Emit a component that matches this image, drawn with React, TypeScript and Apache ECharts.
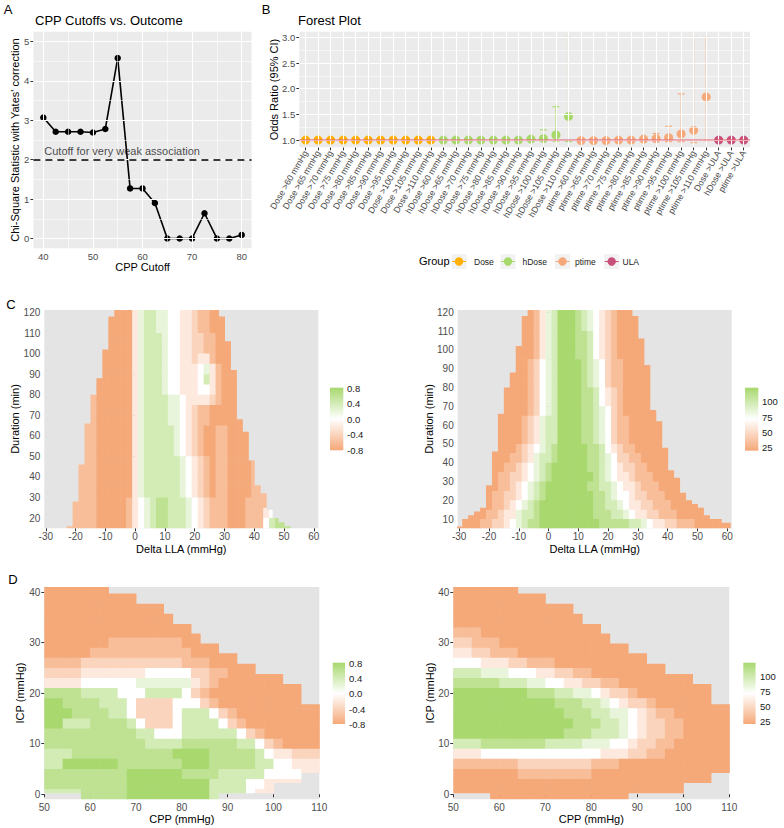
import React, { useEffect, useRef } from 'react';
import * as echarts from 'echarts';

const FONT = '"Liberation Sans", Arial, Helvetica, sans-serif';
const ORANGE = '#F5A878';
const GREEN = '#A8D86E';
const WHITE = '#FFFFFF';
const PANEL_BG = '#EBEBEB';
const NA_BG = '#E4E4E4';
const TICK_COLOR = '#333333';
const LABEL_COLOR = '#4D4D4D';

// ---------------- Panel A: CPP cutoffs vs outcome ----------------
const cppCutoffs = [40, 42.5, 45, 47.5, 50, 52.5, 55, 57.5, 60, 62.5, 65, 67.5, 70, 72.5, 75, 77.5, 80];
const chiSquare = [3.07, 2.71, 2.71, 2.71, 2.69, 2.78, 4.58, 1.27, 1.27, 0.9, 0.0, 0.0, 0.0, 0.64, 0.0, 0.0, 0.09];
const weakAssociationCutoff = 2;
const aXTicks = [40, 50, 60, 70, 80];
const aXMinor = [45, 55, 65, 75];
const aYTicks = [0, 1, 2, 3, 4, 5];
const aYMinor = [0.5, 1.5, 2.5, 3.5, 4.5];

// ---------------- Panel B: forest plot ----------------
const forestCategories = [
  'Dose >60 mmHg', 'Dose >65 mmHg', 'Dose >70 mmHg', 'Dose >75 mmHg', 'Dose >80 mmHg', 'Dose >85 mmHg',
  'Dose >90 mmHg', 'Dose >95 mmHg', 'Dose >100 mmHg', 'Dose >105 mmHg', 'Dose >110 mmHg',
  'hDose >60 mmHg', 'hDose >65 mmHg', 'hDose >70 mmHg', 'hDose >75 mmHg', 'hDose >80 mmHg', 'hDose >85 mmHg',
  'hDose >90 mmHg', 'hDose >95 mmHg', 'hDose >100 mmHg', 'hDose >105 mmHg', 'hDose >110 mmHg',
  'ptime >60 mmHg', 'ptime >65 mmHg', 'ptime >70 mmHg', 'ptime >75 mmHg', 'ptime >80 mmHg', 'ptime >85 mmHg',
  'ptime >90 mmHg', 'ptime >95 mmHg', 'ptime >100 mmHg', 'ptime >105 mmHg', 'ptime >110 mmHg',
  'Dose >ULA', 'hDose >ULA', 'ptime >ULA',
];
const forestGroupNames = ['Dose', 'hDose', 'ptime', 'ULA'];
const forestGroupColors = ['#FFB000', '#A6D96A', '#F5A97A', '#C9507A'];
const forestGroupIndex = [
  0, 0, 0, 0, 0, 0, 0, 0, 0, 0, 0,
  1, 1, 1, 1, 1, 1, 1, 1, 1, 1, 1,
  2, 2, 2, 2, 2, 2, 2, 2, 2, 2, 2,
  3, 3, 3,
];
const oddsRatio = [
  1.0, 1.0, 1.0, 1.0, 1.0, 1.0, 1.0, 1.0, 1.0, 1.0, 1.0,
  1.0, 1.0, 1.0, 1.0, 1.0, 1.0, 1.0, 1.02, 1.03, 1.1, 1.46,
  0.99, 0.99, 0.99, 1.0, 1.0, 1.02, 1.03, 1.05, 1.12, 1.19, 1.84,
  1.0, 1.0, 1.0,
];
const ciLower = [
  0.99, 0.99, 0.99, 0.99, 0.99, 0.99, 0.99, 0.99, 0.99, 0.99, 0.99,
  0.99, 0.99, 0.99, 0.99, 0.99, 0.99, 0.99, 0.99, 0.98, 0.98, 0.97,
  0.98, 0.98, 0.98, 0.98, 0.98, 0.99, 0.97, 0.97, 0.97, 0.95, 0.99,
  0.99, 0.99, 0.99,
];
const ciUpper = [
  1.01, 1.01, 1.01, 1.01, 1.01, 1.01, 1.01, 1.01, 1.01, 1.01, 1.01,
  1.01, 1.01, 1.01, 1.01, 1.01, 1.01, 1.01, 1.05, 1.2, 1.65, 3.0,
  1.01, 1.01, 1.01, 1.01, 1.01, 1.04, 1.13, 1.27, 1.9, 3.0, 3.0,
  1.01, 1.01, 1.01,
];
const bYTicks = [1.0, 1.5, 2.0, 2.5, 3.0];
const bYMinor = [1.25, 1.75, 2.25, 2.75];

// ---------------- Panels C / D: heatmaps ----------------
// level code -> value
const corrLevels = [-0.8, -0.6, -0.4, -0.2, 0, 0.2, 0.4, 0.6, 0.8];
const pctLevels = [22, 34.5, 47, 59.5, 72, 84.5, 97, 109.5, 122];

// Delta LLA domain: [xFrom, xTo, durationTop, durationBottom]
const cDomain: [number, number, number, number][] = [
  [-31, -29, 6, 0], [-29, -27, 10, 0], [-27, -25, 12, 0], [-25, -23, 14, 0], [-23, -21, 16, 0],
  [-21, -19, 28, 0], [-19, -17, 46, 0], [-17, -15, 66, 0], [-15, -13, 80, 0], [-13, -11, 88, 0],
  [-11, -9, 102, 0], [-9, -7, 118, 0], [-7, 28, 130, 0], [28, 30, 118, 0], [30, 32, 106, 0],
  [32, 34, 92, 0], [34, 36, 68, 0], [36, 38, 62, 0], [38, 40, 48, 0], [40, 42, 36, 0],
  [42, 44, 32, 0], [44, 46, 24, 0], [46, 48, 20, 0], [48, 50, 18, 0], [50, 52, 16, 0],
  [52, 54, 12, 0], [54, 58, 10, 0], [58, 62, 8, 0],
];
// [first column index, level codes]; columns centred at -30, -28, ... ; rows: 5-min bands from 120-125 down
const cLeftRows: [number, string][] = [
  [12, '000356655443321100'],
  [11, '00003566554433211000'],
  [11, '00003566554433211000'],
  [11, '000035666544332211000'],
  [10, '0000035666544332211000'],
  [10, '0000035666544332331000'],
  [10, '00000356665443334531000'],
  [9, '000000356665443334631000'],
  [9, '000000356665443334431000'],
  [8, '1000000356666554333321000'],
  [8, '1000000356666554321100000'],
  [7, '110000003566665543211000000'],
  [7, '1100000035666665432100110000'],
  [7, '1100000035666665432100110000'],
  [7, '1100000035666665432100110000'],
  [6, '111000000356666665432101100001'],
  [6, '111000000356666665432101100001'],
  [6, '1110000003566666654321011000011'],
  [6, '11100000035666666543210110000111'],
  [5, '111100000134567766654321110001111'],
  [5, '1111000001345677666543211100011134'],
  [4, '11111000001345677666543211100011146777'],
];
const cRightRows: [number, string][] = [
  [12, '013568887654321000'],
  [11, '00135688876543210000'],
  [11, '00135688876543210000'],
  [11, '001356888776432100000'],
  [10, '0001356888776432100000'],
  [10, '0001356888776432100000'],
  [10, '00124568888765421100000'],
  [9, '000124568888765421100000'],
  [9, '000124568888765421100000'],
  [8, '0000124568888776432100000'],
  [8, '0000124568888776432100000'],
  [7, '000001245688887765421000000'],
  [7, '0000123566888877654211000000'],
  [7, '0000123566888877654211000000'],
  [7, '0000123566888877654211000000'],
  [6, '000012345678888877643211000000'],
  [6, '000112356678888877654221100000'],
  [6, '0011234567888888776543221100000'],
  [6, '01122345678888888765433211100000'],
  [5, '001123456788888887766543321110000'],
  [5, '0112234567888888887765443221110000'],
  [4, '00112345678888888887766543322111000000'],
  [2, '00011233566788888888877766543322111000000'],
  [0, '0000112234567788888888887777766543322111000000'],
];

// CPP / ICP domain: [cppFrom, cppTo, icpTop, icpBottom]
const dDomain: [number, number, number, number][] = [
  [50, 58, 41, 0.3], [58, 64, 41, -1], [64, 70, 39.7, -1], [70, 76, 37.7, -1], [76, 78, 35.7, -1],
  [78, 82, 33.7, -1], [82, 84, 31.8, -1], [84, 88, 29.8, -1], [88, 92, 27.9, 0.3], [92, 96, 25.8, 0.3],
  [96, 100, 23.8, 0.3], [100, 102, 23.8, 2.3], [102, 106, 21.8, 2.3], [106, 110, 17.8, 4.3],
];
// columns centred at 51, 53, ... ; rows centred at ICP 40, 38, ... 0
const dLeftRows: [number, string][] = [
  [0, '0000000000'],
  [0, '0000000000000'],
  [0, '00000000000000'],
  [0, '0000000000000000'],
  [0, '00000000000000000'],
  [0, '0000000111111110000'],
  [0, '000001111111111100000'],
  [0, '11112222222222211100000'],
  [0, '22223333333444442211000000'],
  [0, '3333444444555555321000000000'],
  [0, '7777666644466664210000000000'],
  [0, '887777666422224442100000000000'],
  [0, '888777766422224666421000000000'],
  [0, '886667777642224666642100000000'],
  [0, '777777777766444666666421000000'],
  [0, '777777777776666777777664210000'],
  [0, '666777777777778888777776433222'],
  [0, '668888887777777888777776644333'],
  [0, '777777777888888777766666444433'],
  [0, '7777777778888888886666443333'],
  [0, '6666777778888888886666433'],
];
const dRightRows: [number, string][] = [
  [0, '0000000000'],
  [0, '0000000000000'],
  [0, '00000000000000'],
  [0, '0000000000000000'],
  [0, '11100000000000000'],
  [0, '2211100000000000000'],
  [0, '332211100000000000000'],
  [0, '44433322111000000000000'],
  [0, '66655544433221100000000000'],
  [0, '7777766655443322110000000000'],
  [0, '8888888877766554322100000000'],
  [0, '888888888887776654322100000000'],
  [0, '888888888888777665543211000000'],
  [0, '888888888888877766543221100000'],
  [0, '888888888888777666543221100000'],
  [0, '666777777766665554432211000000'],
  [0, '333444444444444433322110000000'],
  [0, '111111122222222111000000000000'],
  [0, '000000011111111000000000000000'],
  [0, '0000000000000000000000000000'],
  [0, '0000000000000000000000000'],
];

const cXTicks = [-30, -20, -10, 0, 10, 20, 30, 40, 50, 60];
const cLeftYTicks = [20, 30, 40, 50, 60, 70, 80, 90, 100, 110, 120];
const cRightYTicks = [10, 20, 30, 40, 50, 60, 70, 80, 90, 100, 110, 120];
const dXTicks = [50, 60, 70, 80, 90, 100, 110];
const dYTicks = [0, 10, 20, 30, 40];
const corrLegendLabels = ['0.8', '0.4', '0.0', '-0.4', '-0.8'];
const pctLegendLabels = ['100', '75', '50', '25'];

function buildCells(
  rows: [number, string][], xFirst: number, dx: number, yFirst: number, dy: number,
  domain: [number, number, number, number][], levels: number[],
) {
  const cells: number[][] = [];
  rows.forEach(([start, s], r) => {
    const yc = yFirst - r * dy;
    const y0 = yc - dy / 2;
    const y1 = yc + dy / 2;
    for (let k = 0; k < s.length; k++) {
      const ch = s[k];
      if (ch === '.') continue;
      const v = levels[Number(ch)];
      const xc = xFirst + (start + k) * dx;
      const xa = xc - dx / 2;
      const xb = xc + dx / 2;
      for (const [sx0, sx1, top, bot] of domain) {
        const a = Math.max(xa, sx0);
        const b = Math.min(xb, sx1);
        if (b <= a) continue;
        const lo = Math.max(y0, bot);
        const hi = Math.min(y1, top);
        if (hi <= lo) continue;
        cells.push([a, b, lo, hi, v]);
      }
    }
  });
  return cells;
}

function txt(text: string, x: number, y: number, size: number, o: any = {}) {
  const align = o.align || 'left';
  const valign = o.valign || 'middle';
  return {
    type: 'text', x, y, rotation: o.rotation || 0, silent: true, z: 100,
    style: {
      text, fill: o.color || '#000000', fontSize: size, fontFamily: FONT,
      align, verticalAlign: valign, textAlign: align, textVerticalAlign: valign,
    },
  };
}

function valAxis(gridIndex: number, min: number, max: number, ticks: number[], fontSize: number, isX: boolean, formatter?: any) {
  return {
    type: 'value', gridIndex, min, max,
    axisLine: { show: false },
    axisTick: { show: true, length: 3, lineStyle: { color: TICK_COLOR, width: 1 }, customValues: ticks },
    axisLabel: {
      customValues: ticks, color: LABEL_COLOR, fontSize, fontFamily: FONT, margin: isX ? 3 : 4,
      ...(formatter ? { formatter } : {}),
    },
    splitLine: { show: false },
    minorSplitLine: { show: false },
  };
}

function gridLines(xi: number, xs: (number | string)[], xsMinor: number[], ys: number[], ysMinor: number[]) {
  const data: any[] = [];
  xs.forEach((v) => data.push({ xAxis: v, lineStyle: { color: WHITE, width: 1.1, type: 'solid' } }));
  xsMinor.forEach((v) => data.push({ xAxis: v, lineStyle: { color: WHITE, width: 0.55, type: 'solid' } }));
  ys.forEach((v) => data.push({ yAxis: v, lineStyle: { color: WHITE, width: 1.1, type: 'solid' } }));
  ysMinor.forEach((v) => data.push({ yAxis: v, lineStyle: { color: WHITE, width: 0.55, type: 'solid' } }));
  return {
    type: 'scatter', xAxisIndex: xi, yAxisIndex: xi, data: [], z: 1, silent: true,
    markLine: { silent: true, symbol: ['none', 'none'], label: { show: false }, animation: false, data },
  };
}

function heatSeries(xi: number, cells: number[][]) {
  return {
    type: 'custom', coordinateSystem: 'cartesian2d', xAxisIndex: xi, yAxisIndex: xi,
    data: cells, clip: true, z: 2, silent: true,
    encode: { x: [0, 1], y: [2, 3] },
    renderItem: (params: any, api: any) => {
      const a = api.coord([api.value(0), api.value(3)]);
      const b = api.coord([api.value(1), api.value(2)]);
      return {
        type: 'rect',
        shape: { x: a[0], y: a[1], width: b[0] - a[0] + 0.5, height: b[1] - a[1] + 0.5 },
        style: { fill: api.visual('color') },
      };
    },
  };
}

function colorbar(x: number, y: number, w: number, h: number) {
  return {
    type: 'rect', silent: true, z: 50,
    shape: { x, y, width: w, height: h },
    style: {
      fill: new echarts.graphic.LinearGradient(0, 0, 0, 1, [
        { offset: 0, color: GREEN }, { offset: 0.5, color: WHITE }, { offset: 1, color: ORANGE },
      ]),
    },
  };
}

export default function App() {
  const ref = useRef<HTMLDivElement>(null);

  useEffect(() => {
    document.body.style.margin = '0';
    const chart = echarts.init(ref.current!, undefined, { renderer: 'svg' });

    const cLeftCells = buildCells(cLeftRows, -30, 2, 122.5, 5, cDomain, corrLevels);
    const cRightCells = buildCells(cRightRows, -30, 2, 122.5, 5, cDomain, pctLevels);
    const dLeftCells = buildCells(dLeftRows, 51, 2, 40, 2, dDomain, corrLevels);
    const dRightCells = buildCells(dRightRows, 51, 2, 40, 2, dDomain, pctLevels);

    const series: any[] = [];
    // Panel A
    series.push(gridLines(0, aXTicks, aXMinor, aYTicks, aYMinor));
    series.push({
      type: 'line', xAxisIndex: 0, yAxisIndex: 0, z: 4, silent: true,
      data: cppCutoffs.map((x, i) => [x, chiSquare[i]]),
      symbol: 'circle', symbolSize: 6.5, showSymbol: true,
      itemStyle: { color: '#000000' }, lineStyle: { color: '#000000', width: 1.6 },
    });
    series.push({
      type: 'scatter', xAxisIndex: 0, yAxisIndex: 0, z: 5, silent: true,
      data: [[cppCutoffs[0], weakAssociationCutoff]], symbolSize: 0.1,
      itemStyle: { color: 'rgba(0,0,0,0)' },
      label: {
        show: true, position: [1, -14], formatter: 'Cutoff for very weak association',
        color: '#1A1A1A', fontSize: 11, fontFamily: FONT,
      },
      markLine: {
        silent: true, symbol: ['none', 'none'], label: { show: false }, animation: false,
        data: [{ yAxis: weakAssociationCutoff }],
        lineStyle: { color: '#000000', width: 1.6, type: [7, 5] },
      },
    });
    // Panel B
    series.push(gridLines(1, forestCategories, [], bYTicks, bYMinor));
    series.push({
      type: 'scatter', xAxisIndex: 1, yAxisIndex: 1, data: [], z: 2, silent: true,
      markLine: {
        silent: true, symbol: ['none', 'none'], label: { show: false }, animation: false,
        data: [{ yAxis: 1 }], lineStyle: { color: 'rgba(226,75,95,0.45)', width: 2.2, type: 'solid' },
      },
    });
    series.push({
      type: 'custom', coordinateSystem: 'cartesian2d', xAxisIndex: 1, yAxisIndex: 1, z: 3, silent: true,
      data: forestCategories.map((c, i) => [i, ciLower[i], ciUpper[i], forestGroupIndex[i]]),
      encode: { x: 0, y: [1, 2] },
      renderItem: (params: any, api: any) => {
        const i = api.value(0);
        const lo = api.coord([i, api.value(1)]);
        const hi = api.coord([i, api.value(2)]);
        const color = forestGroupColors[api.value(3)];
        const h = 3.5;
        const st = { stroke: color, lineWidth: 1.1 };
        return {
          type: 'group',
          children: [
            { type: 'line', shape: { x1: lo[0], y1: lo[1], x2: hi[0], y2: hi[1] }, style: st },
            { type: 'line', shape: { x1: hi[0] - h, y1: hi[1], x2: hi[0] + h, y2: hi[1] }, style: st },
            { type: 'line', shape: { x1: lo[0] - h, y1: lo[1], x2: lo[0] + h, y2: lo[1] }, style: st },
          ],
        };
      },
    });
    forestGroupNames.forEach((g, gi) => {
      series.push({
        type: 'scatter', name: g, xAxisIndex: 1, yAxisIndex: 1, z: 4, silent: true,
        symbolSize: 9, itemStyle: { color: forestGroupColors[gi], opacity: 1 },
        data: forestCategories.map((c, i) => [i, oddsRatio[i], forestGroupIndex[i]]).filter((d) => d[2] === gi).map((d) => [d[0], d[1]]),
      });
    });
    const heatStart = series.length;
    series.push(heatSeries(2, cLeftCells));
    series.push(heatSeries(3, cRightCells));
    series.push(heatSeries(4, dLeftCells));
    series.push(heatSeries(5, dRightCells));

    const graphic: any[] = [
      txt('A', 8, 9.5, 13, { align: 'center' }),
      txt('B', 266, 9.5, 13, { align: 'center' }),
      txt('C', 11, 304.5, 13, { align: 'center' }),
      txt('D', 13, 579.5, 13, { align: 'center' }),
      txt('CPP Cutoffs vs. Outcome', 35, 20, 13),
      txt('Forest Plot', 298, 20, 13),
      txt('CPP Cutoff', 142.5, 267, 11, { align: 'center' }),
      txt("Chi-Square Statistic with Yates' correction", 15, 140, 11, { align: 'center', rotation: Math.PI / 2 }),
      txt('Odds Ratio (95% CI)', 273.5, 89.5, 11, { align: 'center', rotation: Math.PI / 2 }),
      txt('Delta LLA (mmHg)', 181.3, 549, 11, { align: 'center' }),
      txt('Duration (min)', 15, 419, 11, { align: 'center', rotation: Math.PI / 2 }),
      txt('Delta LLA (mmHg)', 594.7, 549, 11, { align: 'center' }),
      txt('Duration (min)', 428.5, 419, 11, { align: 'center', rotation: Math.PI / 2 }),
      txt('CPP (mmHg)', 181.8, 819, 11, { align: 'center' }),
      txt('ICP (mmHg)', 20, 693, 11, { align: 'center', rotation: Math.PI / 2 }),
      txt('CPP (mmHg)', 591.3, 819, 11, { align: 'center' }),
      txt('ICP (mmHg)', 430, 693, 11, { align: 'center', rotation: Math.PI / 2 }),
      // colour bars
      colorbar(330, 387.7, 13.3, 62.6),
      colorbar(745, 387.7, 13.3, 63),
      colorbar(332.7, 662.7, 12.3, 61.3),
      colorbar(743.3, 662.7, 12.3, 61.3),
      // forest legend
      txt('Group', 419, 261, 11),
    ];
    [388.3, 403.7, 419, 434.3, 450.3].forEach((y, k) => graphic.push(txt(corrLegendLabels[k], 347, y, 9.5, { color: '#1A1A1A' })));
    [401.7, 417, 432.3, 447.7].forEach((y, k) => graphic.push(txt(pctLegendLabels[k], 762, y, 9.5, { color: '#1A1A1A' })));
    [663.3, 678.7, 693.7, 709, 724].forEach((y, k) => graphic.push(txt(corrLegendLabels[k], 349, y, 9.5, { color: '#1A1A1A' })));
    [676, 691.3, 706.7, 721.7].forEach((y, k) => graphic.push(txt(pctLegendLabels[k], 760, y, 9.5, { color: '#1A1A1A' })));
    const keyX = [459, 508, 562.5, 611.7];
    const labelX = [474, 522.5, 575, 622.5];
    forestGroupNames.forEach((g, gi) => {
      const cx = keyX[gi];
      graphic.push({ type: 'rect', silent: true, z: 50, shape: { x: cx - 7.5, y: 254, width: 15, height: 15 }, style: { fill: '#F2F2F2' } });
      graphic.push({ type: 'line', silent: true, z: 51, shape: { x1: cx - 7, y1: 261.5, x2: cx + 7, y2: 261.5 }, style: { stroke: forestGroupColors[gi], lineWidth: 1 } });
      graphic.push({ type: 'circle', silent: true, z: 52, shape: { cx, cy: 261.5, r: 4.2 }, style: { fill: forestGroupColors[gi] } });
      graphic.push(txt(g, labelX[gi], 261.5, 8.5, { color: '#1A1A1A' }));
    });

    const option: any = {
      animation: false,
      backgroundColor: '#FFFFFF',
      textStyle: { fontFamily: FONT },
      grid: [
        { left: 33.4, top: 31.7, width: 218.2, height: 216.6, show: true, backgroundColor: PANEL_BG, borderWidth: 0 },
        { left: 299.3, top: 31.7, width: 450.7, height: 115.6, show: true, backgroundColor: PANEL_BG, borderWidth: 0 },
        { left: 44.3, top: 310, width: 274, height: 218.3, show: true, backgroundColor: NA_BG, borderWidth: 0 },
        { left: 457.7, top: 310, width: 274, height: 218.3, show: true, backgroundColor: NA_BG, borderWidth: 0 },
        { left: 44.3, top: 587, width: 275, height: 212.3, show: true, backgroundColor: NA_BG, borderWidth: 0 },
        { left: 453.3, top: 587, width: 276, height: 212.3, show: true, backgroundColor: NA_BG, borderWidth: 0 },
      ],
      xAxis: [
        valAxis(0, 38, 82, aXTicks, 9.5, true),
        {
          type: 'category', gridIndex: 1, data: forestCategories, boundaryGap: true,
          axisLine: { show: false },
          axisTick: { show: true, alignWithLabel: true, length: 3, lineStyle: { color: TICK_COLOR, width: 1 } },
          axisLabel: { interval: 0, rotate: 60, fontSize: 8.8, color: LABEL_COLOR, fontFamily: FONT, margin: 4 },
          splitLine: { show: false },
        },
        valAxis(2, -30.5, 61.5, cXTicks, 10, true),
        valAxis(3, -30.5, 61.5, cXTicks, 10, true),
        valAxis(4, 50, 110, dXTicks, 10, true),
        valAxis(5, 50, 110, dXTicks, 10, true),
      ],
      yAxis: [
        valAxis(0, -0.25, 5.25, aYTicks, 9.5, false),
        valAxis(1, 0.86, 3.11, bYTicks, 9.5, false, (v: number) => v.toFixed(1)),
        valAxis(2, 15, 121.2, cLeftYTicks, 10, false),
        valAxis(3, 5.1, 121.2, cRightYTicks, 10, false),
        valAxis(4, -1, 41, dYTicks, 10, false),
        valAxis(5, -1, 41, dYTicks, 10, false),
      ],
      visualMap: [
        { type: 'continuous', show: false, seriesIndex: heatStart, dimension: 4, min: -0.8, max: 0.8, inRange: { color: [ORANGE, WHITE, GREEN] } },
        { type: 'continuous', show: false, seriesIndex: heatStart + 1, dimension: 4, min: 22, max: 122, inRange: { color: [ORANGE, WHITE, GREEN] } },
        { type: 'continuous', show: false, seriesIndex: heatStart + 2, dimension: 4, min: -0.8, max: 0.8, inRange: { color: [ORANGE, WHITE, GREEN] } },
        { type: 'continuous', show: false, seriesIndex: heatStart + 3, dimension: 4, min: 22, max: 122, inRange: { color: [ORANGE, WHITE, GREEN] } },
      ],
      series,
      graphic,
    };
    chart.setOption(option);
    return () => chart.dispose();
  }, []);

  return <div ref={ref} style={{ position: 'fixed', left: 0, top: 0, width: 784, height: 828 }} />;
}
